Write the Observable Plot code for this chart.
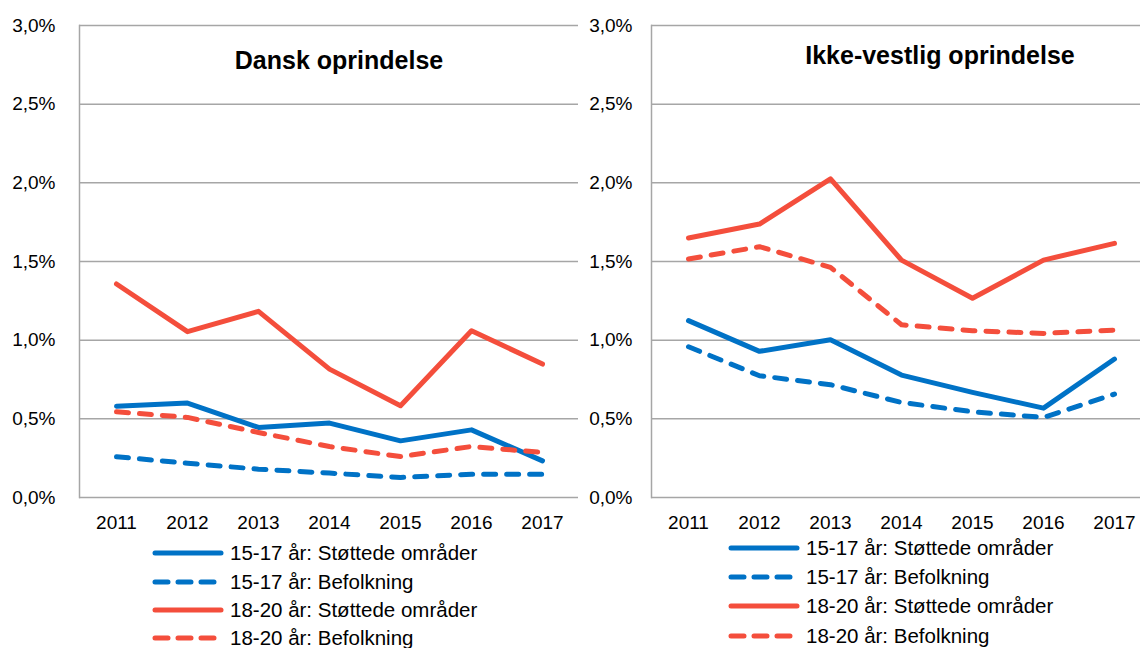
<!DOCTYPE html>
<html>
<head>
<meta charset="utf-8">
<script src="https://cdn.jsdelivr.net/npm/d3@7"></script>
<script src="https://cdn.jsdelivr.net/npm/@observablehq/plot@0.6"></script>
<style>
  html, body { margin: 0; padding: 0; background: #fff; }
  #root { position: relative; width: 1140px; height: 648px; overflow: hidden; font-family: "Liberation Sans", Arial, sans-serif; color: #000; }
  .panel { position: absolute; top: 0; }
  .title { position: absolute; font-weight: bold; font-size: 25px; transform: translate(-50%, -50%); white-space: nowrap; }
  .legend { position: absolute; font-size: 20.5px; }
  .legend .row { position: absolute; display: flex; align-items: center; white-space: nowrap; transform: translateY(-50%); }
  .legend svg { display: block; margin-right: 6px; }
</style>
</head>
<body>
<div id="root"></div>
<script>
const years = [2011, 2012, 2013, 2014, 2015, 2016, 2017];
const seriesNames = ["15-17 år: Støttede områder", "15-17 år: Befolkning", "18-20 år: Støttede områder", "18-20 år: Befolkning"];
const seriesColors = ["#0072C6", "#0072C6", "#F44E3C", "#F44E3C"];
const seriesDashed = [false, true, false, true];
const yTicks = [0, 0.5, 1.0, 1.5, 2.0, 2.5, 3.0];

// Dansk oprindelse (percent)
const dansk1517Stoettede = [0.58, 0.60, 0.445, 0.473, 0.36, 0.43, 0.233];
const dansk1517Befolkning = [0.259, 0.218, 0.18, 0.155, 0.127, 0.148, 0.148];
const dansk1820Stoettede = [1.357, 1.054, 1.183, 0.816, 0.583, 1.06, 0.848];
const dansk1820Befolkning = [0.545, 0.509, 0.413, 0.324, 0.26, 0.324, 0.286];

// Ikke-vestlig oprindelse (percent)
const ikke1517Stoettede = [1.124, 0.929, 1.003, 0.778, 0.668, 0.568, 0.88];
const ikke1517Befolkning = [0.958, 0.774, 0.717, 0.604, 0.545, 0.509, 0.657];
const ikke1820Stoettede = [1.649, 1.738, 2.025, 1.509, 1.266, 1.509, 1.615];
const ikke1820Befolkning = [1.516, 1.594, 1.463, 1.098, 1.06, 1.043, 1.064];

const panelTitles = ["Dansk oprindelse", "Ikke-vestlig oprindelse"];

const fmt = d => d.toFixed(1).replace(".", ",") + "%";
const root = document.getElementById("root");

function makePanel(seriesValues, opts) {
  const marks = [
    Plot.ruleY(yTicks, {stroke: "#A6A6A6", strokeWidth: 1.5}),
    Plot.frame({anchor: "left", stroke: "#A6A6A6", strokeWidth: 1.5}),
    Plot.axisY(yTicks, {tickSize: 0, tickPadding: opts.yPad, tickFormat: fmt, fontSize: 19, fill: "#000", label: null}),
    Plot.axisX(years, {tickSize: 0, tickPadding: 18, tickFormat: d => String(d), fontSize: 19, fill: "#000", label: null})
  ];
  seriesValues.forEach((vals, i) => {
    const data = years.map((y, j) => ({year: y, value: vals[j]}));
    marks.push(Plot.line(data, {
      x: "year", y: "value",
      stroke: seriesColors[i], strokeWidth: 5,
      strokeDasharray: seriesDashed[i] ? "12 11" : null,
      strokeLinecap: "round", strokeLinejoin: "round"
    }));
  });
  const svg = Plot.plot({
    width: opts.width, height: 540,
    marginLeft: opts.marginLeft, marginRight: 0, marginTop: 25, marginBottom: 43,
    style: {fontFamily: '"Liberation Sans", Arial, sans-serif', overflow: "visible", maxWidth: "none", background: "transparent"},
    x: {type: "point", domain: years, padding: 0.5, axis: null, label: null},
    y: {domain: [0, 3], axis: null, label: null},
    marks
  });
  const div = document.createElement("div");
  div.className = "panel";
  div.style.left = opts.left + "px";
  div.appendChild(svg);
  root.appendChild(div);
}

makePanel([dansk1517Stoettede, dansk1517Befolkning, dansk1820Stoettede, dansk1820Befolkning], {left: 0, width: 578, marginLeft: 79, yPad: 24});
makePanel([ikke1517Stoettede, ikke1517Befolkning, ikke1820Stoettede, ikke1820Befolkning], {left: 578, width: 573, marginLeft: 73, yPad: 19});

function addTitle(text, cx, cy) {
  const t = document.createElement("div");
  t.className = "title";
  t.style.left = cx + "px";
  t.style.top = cy + "px";
  t.textContent = text;
  root.appendChild(t);
}
addTitle(panelTitles[0], 339, 60);
addTitle(panelTitles[1], 940, 55);

function addLegend(x, rowsY) {
  const lg = document.createElement("div");
  lg.className = "legend";
  lg.style.left = x + "px";
  lg.style.top = "0px";
  seriesNames.forEach((name, i) => {
    const row = document.createElement("div");
    row.className = "row";
    row.style.top = rowsY[i] + "px";
    row.style.left = "0px";
    const dash = seriesDashed[i] ? 'stroke-dasharray="13 10"' : "";
    row.innerHTML = `<svg width="72" height="10"><line x1="3" y1="5" x2="69" y2="5" stroke="${seriesColors[i]}" stroke-width="5" stroke-linecap="round" ${dash}/></svg><span>${name}</span>`;
    lg.appendChild(row);
  });
  root.appendChild(lg);
}
addLegend(152, [553, 582, 610, 638]);
addLegend(728, [548, 577, 606, 636]);
</script>
</body>
</html>
